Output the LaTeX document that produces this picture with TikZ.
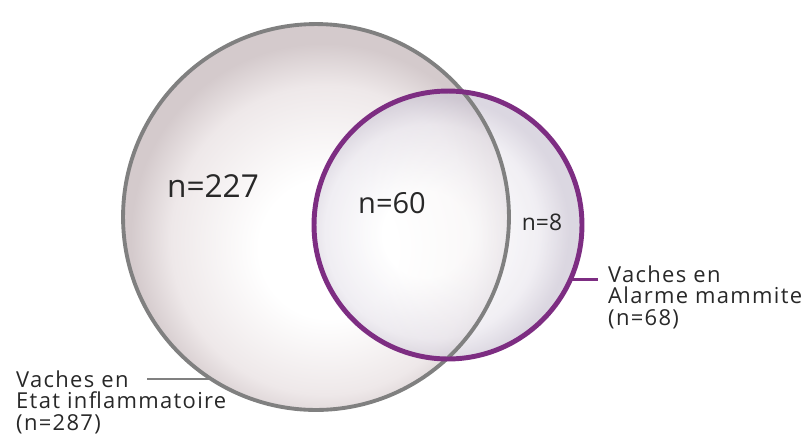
\documentclass[tikz,border=0pt]{standalone}
\usepackage{fontspec}
\setmainfont{Open Sans}
\newfontfamily\labelfont{Open Sans}[LetterSpace=6]
\usetikzlibrary{positioning}
\definecolor{RingGrey}{RGB}{128,128,128}
\definecolor{RingPurple}{RGB}{125,45,130}
\definecolor{BallPink}{RGB}{212,202,204}
\definecolor{BallPinkMid}{RGB}{238,232,233}
\definecolor{BallLilac}{RGB}{204,198,212}
\definecolor{BallLilacMid}{RGB}{234,231,238}
\definecolor{TextGrey}{RGB}{40,40,40}
\pgfdeclareradialshading{inflamshade}{\pgfpoint{2bp}{-5bp}}{color(0bp)=(white); color(9bp)=(white); color(20bp)=(BallPinkMid); color(25bp)=(BallPink); color(50bp)=(BallPink)}
\pgfdeclareradialshading{alarmshade}{\pgfpoint{-5bp}{-2bp}}{color(0bp)=(white); color(8bp)=(white); color(20bp)=(BallLilacMid); color(25bp)=(BallLilac); color(50bp)=(BallLilac)}

\begin{document}
\begin{tikzpicture}[x=0.02cm, y=-0.02cm,
  ball/.style={circle, inner sep=0pt, shade},
  count/.style={text=TextGrey},
  caption/.style={align=left, anchor=north west, text=TextGrey,
    font=\labelfont\fontsize{12.5}{12}\selectfont}]
  \useasboundingbox (0,0) rectangle (808,441);
  % the two sets
  \node[ball, shading=inflamshade, minimum size=7.72cm] (inflam) at (316,217) {};
  \node[ball, shading=alarmshade, minimum size=5.36cm, opacity=0.7] (alarm) at (448,225) {};
  \draw[RingGrey, line width=2.2pt] (inflam.center) circle[radius=3.86cm];
  \draw[RingPurple, line width=2.8pt] (alarm.center) circle[radius=2.68cm];

  % counts
  \node[count, font=\fontsize{18}{20}\selectfont] (n227) at (213,186) {n=227};
  \node[count, font=\fontsize{16.5}{18}\selectfont] (n60) at (392,203) {n=60};
  \node[count, font=\fontsize{13}{14}\selectfont] (n8) at (542,222) {n=8};

  % captions
  \node[caption] (inflamlbl) at (10,365) {Vaches en\\Etat inflammatoire\\(n=287)};
  \node[caption] (alarmlbl) at (602,260) {Vaches en\\Alarme mammite\\(n=68)};
  \coordinate (inflamtip) at (147,382);
  \coordinate (alarmtip) at (598,280);
  \draw[RingGrey, line width=1.2pt] (inflam.237) -- (inflamtip |- inflam.237);
  \draw[RingPurple, line width=1.5pt] (alarm.-24) -- (alarmtip |- alarm.-24);
\end{tikzpicture}
\end{document}
